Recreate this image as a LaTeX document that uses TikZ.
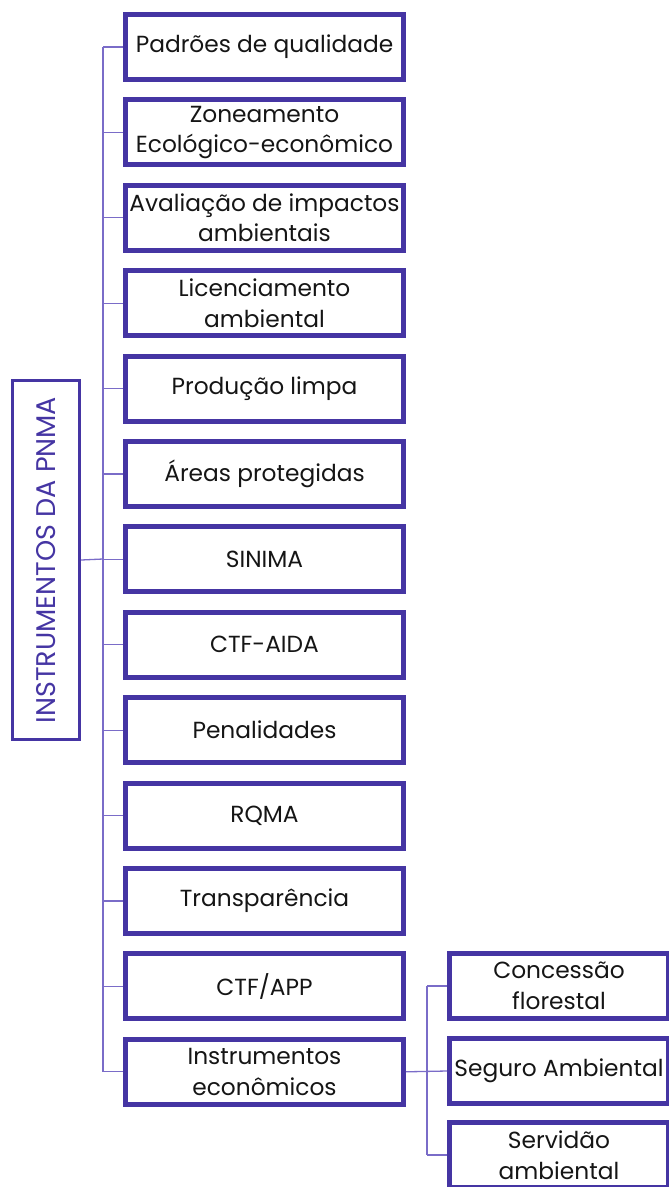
\documentclass[tikz,border=0pt]{standalone}
\usepackage{fontspec}
\setmainfont{Poppins}
\definecolor{boxc}{HTML}{4535A3}
\definecolor{linec}{HTML}{7A6CC8}
\definecolor{txt}{HTML}{151515}
\begin{document}
\begin{tikzpicture}[x=1pt,y=-1pt,
  box/.style={draw=boxc,line width=5pt,minimum width=278pt,minimum height=65pt,
    align=center,font=\fontsize{23.3}{30.5}\selectfont,text=txt,inner sep=0pt},
  subbox/.style={box,minimum width=219pt},
  rootbox/.style={draw=boxc,line width=3.3pt,minimum width=67pt,minimum height=359pt,
    inner sep=0pt,text=boxc,font=\fontsize{27}{30}\selectfont},
  conn/.style={draw=linec,line width=1.3pt}]
\clip (0,0) rectangle (669,1187);
\useasboundingbox (0,0) rectangle (669,1187);
\node[rootbox] (root) at (46,560) {\rotatebox{90}{INSTRUMENTOS DA PNMA}};
\foreach \i/\t in {1/{Padrões de qualidade},2/{Zoneamento\\Ecológico-econômico},
  3/{Avaliação de impactos\\ambientais},4/{Licenciamento\\ambiental},5/{Produção limpa},
  6/{Áreas protegidas},7/{SINIMA},8/{CTF-AIDA},9/{Penalidades},10/{RQMA},
  11/{Transparência},12/{CTF/APP},13/{Instrumentos\\econômicos}}{
  \node[box] (b\i) at (264.5,{47+85.4*(\i-1)}) {\t};
}
\node[subbox] (s1) at (559,986) {Concessão\\florestal};
\node[subbox] (s2) at (559,1071) {Seguro Ambiental};
\node[subbox] (s3) at (559,1155) {Servidão\\ambiental};
\coordinate (t) at (103,559);
\coordinate (u) at (427,1071);
\draw[conn] (root.east) -- (t);
\draw[conn] (b1.west -| t) -- (b13.west -| t);
\foreach \i in {1,...,13}{\draw[conn] (b\i.west) -- (b\i.west -| t);}
\draw[conn] (b13.east) -- (s2.west);
\draw[conn] (s1.west -| u) -- (s3.west -| u);
\draw[conn] (s1.west) -- (s1.west -| u);
\draw[conn] (s3.west) -- (s3.west -| u);
\end{tikzpicture}
\end{document}
